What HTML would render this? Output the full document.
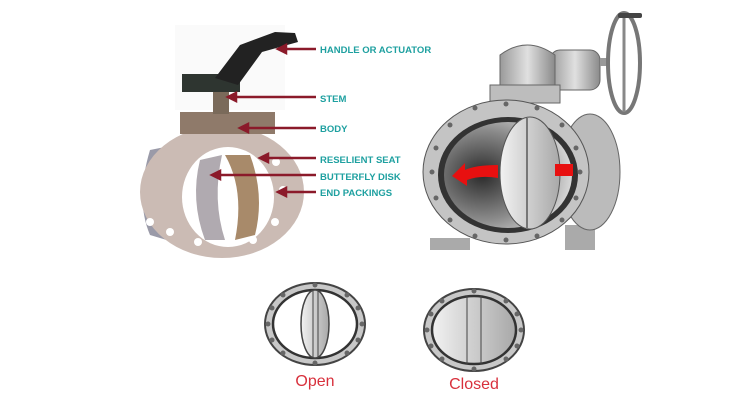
<!DOCTYPE html>
<html><head><style>
html,body{margin:0;padding:0;background:#fff;}
svg{display:block;}
text{font-family:"Liberation Sans",sans-serif;}
</style></head><body>
<svg width="752" height="417" viewBox="0 0 752 417" xmlns="http://www.w3.org/2000/svg">
<defs>
<radialGradient id="dk" cx="0.3" cy="0.5" r="0.7"><stop offset="0" stop-color="#2a2a2a"/><stop offset="0.6" stop-color="#8a8a8a"/><stop offset="1" stop-color="#d8d8d8"/></radialGradient>
<linearGradient id="disk" x1="0" x2="1"><stop offset="0" stop-color="#f2f2f2"/><stop offset="1" stop-color="#a8a8a8"/></linearGradient>
<linearGradient id="gb" x1="0" x2="1"><stop offset="0" stop-color="#9a9a9a"/><stop offset="0.5" stop-color="#e0e0e0"/><stop offset="1" stop-color="#8a8a8a"/></linearGradient>
</defs>
<rect width="752" height="417" fill="#fff"/>
<!-- left valve -->
<rect x="175" y="25" width="110" height="85" fill="#fafafa"/>
<path d="M150 150 Q135 200 150 235 L200 250 L200 140 Z" fill="#9a9aa8"/>
<ellipse cx="222" cy="192" rx="82" ry="66" fill="#cbbbb4"/>
<ellipse cx="228" cy="197" rx="46" ry="50" fill="#fff"/>
<path d="M200 160 Q190 200 205 240 L225 240 Q212 200 222 155 Z" fill="#b0aab0"/>
<path d="M225 155 Q245 190 235 240 L255 235 Q265 195 250 155 Z" fill="#a88a6a"/>
<rect x="180" y="112" width="95" height="22" fill="#8f7a6a"/>
<rect x="213" y="92" width="16" height="22" fill="#7a6a5a"/>
<rect x="182" y="74" width="58" height="18" fill="#2e3530"/>
<path d="M215 78 L240 45 L275 32 L295 33 L298 42 L262 52 L238 85 Z" fill="#222"/>
<g fill="#fff"><circle cx="150" cy="222" r="4"/><circle cx="170" cy="232" r="4"/><circle cx="198" cy="242" r="4"/><circle cx="276" cy="162" r="4"/><circle cx="283" cy="190" r="4"/><circle cx="275" cy="222" r="4"/><circle cx="253" cy="240" r="4"/></g>
<!-- arrows -->
<g stroke="#8b1a2a" stroke-width="2.5" fill="#8b1a2a">
<line x1="316" y1="49" x2="284" y2="49"/><polygon points="278,49 286,45 286,53"/>
<line x1="316" y1="97" x2="234" y2="97"/><polygon points="228,97 236,93 236,101"/>
<line x1="316" y1="128" x2="246" y2="128"/><polygon points="240,128 248,124 248,132"/>
<line x1="316" y1="158" x2="266" y2="158"/><polygon points="260,158 268,154 268,162"/>
<line x1="316" y1="175" x2="218" y2="175"/><polygon points="212,175 220,171 220,179"/>
<line x1="316" y1="192" x2="284" y2="192"/><polygon points="278,192 286,188 286,196"/>
</g>
<g fill="#1ea0a0" font-weight="bold" font-size="9.5">
<text x="320" y="53">HANDLE OR ACTUATOR</text>
<text x="320" y="102">STEM</text>
<text x="320" y="132">BODY</text>
<text x="320" y="163">RESELIENT SEAT</text>
<text x="320" y="180">BUTTERFLY DISK</text>
<text x="320" y="196">END PACKINGS</text>
</g>
<!-- right valve -->
<rect x="430" y="238" width="40" height="12" fill="#aaa"/>
<rect x="565" y="225" width="30" height="25" fill="#aaa"/>
<ellipse cx="590" cy="172" rx="30" ry="58" fill="#bbb" stroke="#666"/>
<rect x="550" y="50" width="50" height="40" rx="10" fill="url(#gb)" stroke="#666"/>
<rect x="600" y="58" width="10" height="8" fill="#999"/>
<ellipse cx="624" cy="63" rx="16" ry="50" fill="none" stroke="#777" stroke-width="4"/>
<line x1="624" y1="15" x2="624" y2="112" stroke="#888" stroke-width="3"/>
<rect x="618" y="13" width="24" height="5" rx="2" fill="#444"/>
<rect x="490" y="85" width="70" height="18" fill="#bdbdbd" stroke="#666"/>
<path d="M500 85 L500 55 Q527 35 555 55 L555 85 Z" fill="url(#gb)" stroke="#666"/>
<ellipse cx="506" cy="172" rx="83" ry="72" fill="#c4c4c4" stroke="#555"/>
<ellipse cx="508" cy="175" rx="70" ry="58" fill="#333"/>
<ellipse cx="508" cy="175" rx="64" ry="53" fill="url(#dk)"/>
<ellipse cx="530" cy="173" rx="30" ry="56" fill="url(#disk)" stroke="#555"/>
<line x1="527" y1="118" x2="527" y2="229" stroke="#777" stroke-width="2"/>
<path d="M498 165 Q475 165 465 170 L465 163 L452 176 L467 186 L467 180 Q480 175 498 178 Z" fill="#e81010"/>
<rect x="555" y="164" width="18" height="12" fill="#e81010"/>
<g fill="#666"><circle cx="432" cy="172" r="2.5"/><circle cx="580" cy="172" r="2.5"/><circle cx="506" cy="104" r="2.5"/><circle cx="506" cy="240" r="2.5"/><circle cx="450" cy="125" r="2.5"/><circle cx="562" cy="125" r="2.5"/><circle cx="450" cy="220" r="2.5"/><circle cx="562" cy="220" r="2.5"/><circle cx="475" cy="108" r="2.5"/><circle cx="537" cy="108" r="2.5"/><circle cx="475" cy="236" r="2.5"/><circle cx="537" cy="236" r="2.5"/><circle cx="436" cy="148" r="2.5"/><circle cx="436" cy="198" r="2.5"/><circle cx="576" cy="148" r="2.5"/><circle cx="576" cy="198" r="2.5"/></g>
<!-- open -->
<ellipse cx="315" cy="324" rx="50" ry="41" fill="#c8c8c8" stroke="#444" stroke-width="2"/>
<ellipse cx="315" cy="324" rx="42" ry="34" fill="#fff" stroke="#333" stroke-width="2.5"/>
<ellipse cx="315" cy="324" rx="14" ry="34" fill="url(#disk)" stroke="#444" stroke-width="1.5"/>
<line x1="313" y1="290" x2="313" y2="358" stroke="#444"/><line x1="318" y1="290" x2="318" y2="358" stroke="#444"/>
<!-- closed -->
<ellipse cx="474" cy="330" rx="50" ry="41" fill="#c8c8c8" stroke="#444" stroke-width="2"/>
<ellipse cx="474" cy="330" rx="42" ry="34" fill="url(#disk)" stroke="#333" stroke-width="2.5"/>
<line x1="467" y1="296" x2="467" y2="364" stroke="#444"/><line x1="481" y1="296" x2="481" y2="364" stroke="#444"/>
<g fill="#666">
<circle cx="315" cy="285" r="2.5"/><circle cx="315" cy="363" r="2.5"/><circle cx="268" cy="324" r="2.5"/><circle cx="362" cy="324" r="2.5"/><circle cx="283" cy="295" r="2.5"/><circle cx="347" cy="295" r="2.5"/><circle cx="283" cy="353" r="2.5"/><circle cx="347" cy="353" r="2.5"/><circle cx="272" cy="308" r="2.5"/><circle cx="358" cy="308" r="2.5"/><circle cx="272" cy="340" r="2.5"/><circle cx="358" cy="340" r="2.5"/>
<circle cx="474" cy="291" r="2.5"/><circle cx="474" cy="369" r="2.5"/><circle cx="427" cy="330" r="2.5"/><circle cx="521" cy="330" r="2.5"/><circle cx="442" cy="301" r="2.5"/><circle cx="506" cy="301" r="2.5"/><circle cx="442" cy="359" r="2.5"/><circle cx="506" cy="359" r="2.5"/><circle cx="431" cy="314" r="2.5"/><circle cx="517" cy="314" r="2.5"/><circle cx="431" cy="346" r="2.5"/><circle cx="517" cy="346" r="2.5"/>
</g>
<text x="315" y="386" font-size="16" fill="#d8303c" text-anchor="middle">Open</text>
<text x="474" y="389" font-size="16" fill="#d8303c" text-anchor="middle">Closed</text>
</svg>
</body></html>
